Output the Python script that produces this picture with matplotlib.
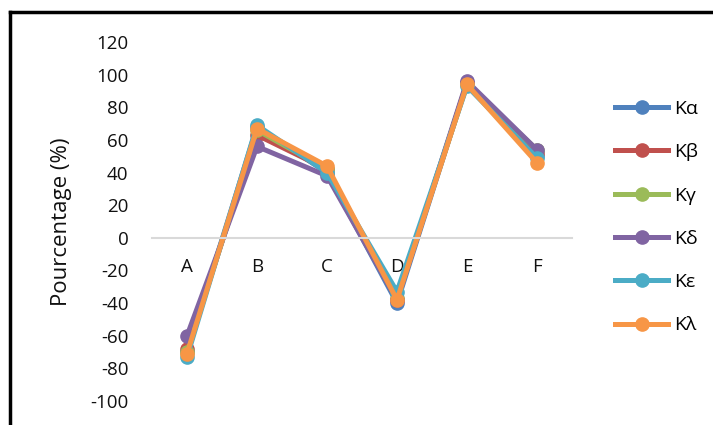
import matplotlib
matplotlib.use("Agg")
import matplotlib.pyplot as plt
from matplotlib.lines import Line2D

categories = ["A", "B", "C", "D", "E", "F"]
series_names = ["Κα", "Κβ", "Κγ", "Κδ", "Κε", "Κλ"]
k_alpha = [-70, 68, 40, -40, 95, 50]
k_beta = [-68, 63, 42, -38, 95, 52]
k_gamma = [-70, 66, 42, -37, 94, 54]
k_delta = [-60, 56, 38, -38, 96, 54]
k_epsilon = [-73, 69, 40, -33, 93, 49]
k_lambda = [-71, 67, 44, -38, 94, 46]
y_ticks = [120, 100, 80, 60, 40, 20, 0, -20, -40, -60, -80, -100]

series = [k_alpha, k_beta, k_gamma, k_delta, k_epsilon, k_lambda]
colors = ["#4F81BD", "#C0504D", "#9BBB59", "#8064A2", "#4BACC6", "#F79646"]

plt.rcParams["font.family"] = ["Open Sans", "DejaVu Sans"]

fig = plt.figure(figsize=(7.13, 4.25), dpi=100)
ax = fig.add_axes([0.2132, 0.0565, 0.589, 0.8445])

for s in ["top", "right", "left"]:
    ax.spines[s].set_visible(False)
ax.spines["bottom"].set_position(("data", 0))
ax.spines["bottom"].set_color("#D9D9D9")
ax.spines["bottom"].set_linewidth(1.5)

x = list(range(len(categories)))
for vals, c in zip(series, colors):
    ax.plot(x, vals, color=c, lw=3.6, marker="o", ms=9.5, solid_capstyle="round")

ax.set_xlim(-0.5, len(categories) - 0.5)
ax.set_ylim(-100, 120)
ax.set_yticks(y_ticks)
ax.set_yticklabels([str(v) for v in y_ticks])
ax.set_xticks(x)
ax.set_xticklabels(categories)
ax.tick_params(axis="x", length=0, pad=14.5, labelsize=13.5, labelcolor="#111111")
ax.tick_params(axis="y", length=0, pad=17, labelsize=13.5, labelcolor="#111111")

ax.set_ylabel("Pourcentage (%)", fontsize=16, color="#111111")
ax.yaxis.set_label_coords(-0.19, 0.5)

handles = [Line2D([0], [0], color=c, lw=3.6, marker="o", ms=9.5) for c in colors]
fig.legend(handles, series_names, loc="upper left", bbox_to_anchor=(0.838, 0.806),
           frameon=False, fontsize=14, handlelength=2.75, labelspacing=1.3,
           handletextpad=0.3)

# outer frame
fig.add_artist(Line2D([0.0147, 1.0], [0.9715, 0.9715], color="black", lw=2.5,
                      transform=fig.transFigure))
fig.add_artist(Line2D([0.0147, 0.0147], [0.0, 0.9715], color="black", lw=2.5,
                      transform=fig.transFigure))

fig.savefig("out.png", dpi=100)
